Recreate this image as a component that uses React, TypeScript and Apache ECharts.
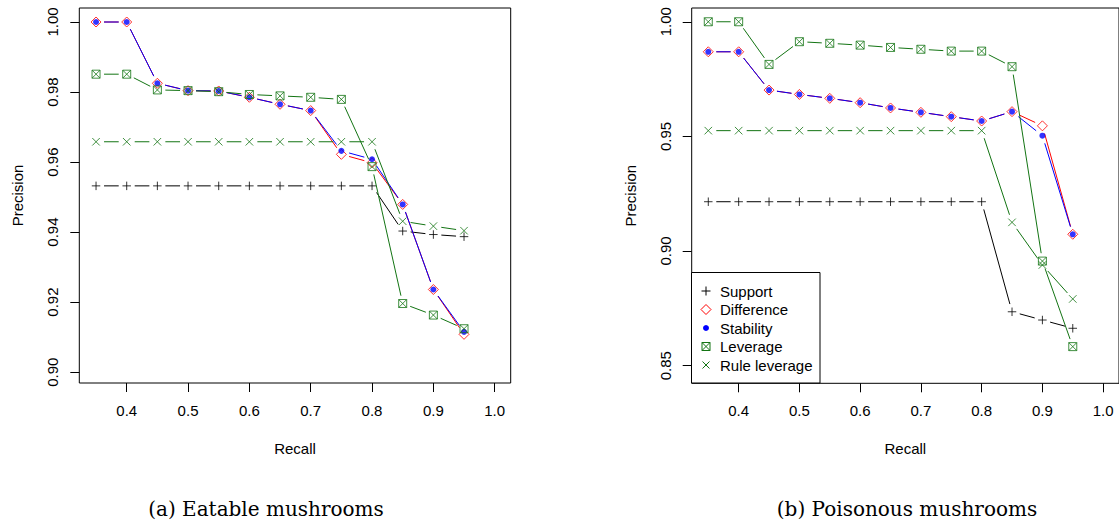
import React, { useEffect, useRef } from "react";
import * as echarts from "echarts";

// ---------- data ----------
const recall = [0.35, 0.4, 0.45, 0.5, 0.55, 0.6, 0.65, 0.7, 0.75, 0.8, 0.85, 0.9, 0.95];

// (a) Eatable mushrooms
const supportA = [0.9532, 0.9532, 0.9532, 0.9532, 0.9532, 0.9532, 0.9532, 0.9532, 0.9532, 0.9532, 0.9403, 0.9393, 0.9387];
const differenceA = [1.0, 1.0, 0.9825, 0.9804, 0.9803, 0.9785, 0.9765, 0.9747, 0.9622, 0.9598, 0.9479, 0.9236, 0.9108];
const stabilityA = [1.0, 1.0, 0.9825, 0.9804, 0.9803, 0.9785, 0.9765, 0.9747, 0.9632, 0.9608, 0.9479, 0.9236, 0.9115];
const leverageA = [0.9851, 0.9851, 0.9806, 0.9804, 0.9801, 0.9793, 0.9789, 0.9785, 0.9779, 0.9587, 0.9196, 0.9163, 0.9124];
const ruleLeverageA = [0.9658, 0.9658, 0.9658, 0.9658, 0.9658, 0.9658, 0.9658, 0.9658, 0.9658, 0.9658, 0.9431, 0.9417, 0.9404];

// (b) Poisonous mushrooms
const supportB = [0.9215, 0.9215, 0.9215, 0.9215, 0.9215, 0.9215, 0.9215, 0.9215, 0.9215, 0.9215, 0.8735, 0.8699, 0.8663];
const differenceB = [0.9869, 0.9869, 0.9702, 0.9683, 0.9666, 0.9647, 0.9624, 0.9605, 0.9586, 0.9567, 0.9608, 0.9546, 0.9073];
const stabilityB = [0.9869, 0.9869, 0.9702, 0.9683, 0.9666, 0.9647, 0.9624, 0.9605, 0.9586, 0.9567, 0.9608, 0.9503, 0.9073];
const leverageB = [1.0, 1.0, 0.9814, 0.9913, 0.9906, 0.9898, 0.9888, 0.988, 0.9872, 0.9872, 0.9804, 0.8956, 0.8583];
const ruleLeverageB = [0.9525, 0.9525, 0.9525, 0.9525, 0.9525, 0.9525, 0.9525, 0.9525, 0.9525, 0.9525, 0.9125, 0.8939, 0.8791];

const xTicks = [0.4, 0.5, 0.6, 0.7, 0.8, 0.9, 1.0];
const yTicksA = [0.9, 0.92, 0.94, 0.96, 0.98, 1.0];
const yTicksB = [0.85, 0.9, 0.95, 1.0];

const seriesNames = ["Support", "Difference", "Stability", "Leverage", "Rule leverage"];
const captions = ["(a) Eatable mushrooms", "(b) Poisonous mushrooms"];

// ---------- styles ----------
const SANS = "Liberation Sans, Arial, sans-serif";
const BLACK = "#000000";
const RED = "#ff0000";
const BLUE = "#0000ff";
const GREEN = "#137413";
const GAP = 8;

const symPlus = "path://M0,5L10,5M5,0L5,10";
const symDiamond = "path://M5,0L10,5L5,10L0,5Z";
const symSquareX = "path://M0,0L10,0L10,10L0,10ZM0,0L10,10M10,0L0,10";
const symCross = "path://M0,0L10,10M10,0L0,10";

type Spec = { name: string; color: string; symbol: string; size: number; filled?: boolean };
const specs: Spec[] = [
  { name: seriesNames[0], color: BLACK, symbol: symPlus, size: 8.5 },
  { name: seriesNames[1], color: RED, symbol: symDiamond, size: 10 },
  { name: seriesNames[2], color: BLUE, symbol: "circle", size: 6, filled: true },
  { name: seriesNames[3], color: GREEN, symbol: symSquareX, size: 8 },
  { name: seriesNames[4], color: GREEN, symbol: symCross, size: 7.5 },
];

function lineSeries(values: number[], color: string, g: number, z: number) {
  const segs: number[][] = [];
  for (let i = 0; i < recall.length - 1; i++) {
    segs.push([recall[i], values[i], recall[i + 1], values[i + 1]]);
  }
  return {
    type: "custom",
    xAxisIndex: g,
    yAxisIndex: g,
    silent: true,
    z,
    dimensions: ["x1", "y1", "x2", "y2"],
    encode: { x: [0, 2], y: [1, 3] },
    data: segs,
    renderItem: (_p: any, api: any) => {
      const p1 = api.coord([api.value(0), api.value(1)]);
      const p2 = api.coord([api.value(2), api.value(3)]);
      const dx = p2[0] - p1[0];
      const dy = p2[1] - p1[1];
      const L = Math.hypot(dx, dy);
      if (L <= 2 * GAP) return null;
      const ux = dx / L;
      const uy = dy / L;
      return {
        type: "line",
        shape: {
          x1: p1[0] + ux * GAP,
          y1: p1[1] + uy * GAP,
          x2: p2[0] - ux * GAP,
          y2: p2[1] - uy * GAP,
        },
        style: { stroke: color, lineWidth: 1 },
      };
    },
  };
}

function pointSeries(spec: Spec, values: number[], g: number, z: number) {
  return {
    type: "scatter",
    name: spec.name,
    xAxisIndex: g,
    yAxisIndex: g,
    silent: true,
    z,
    symbol: spec.symbol,
    symbolSize: spec.size,
    data: recall.map((x, i) => [x, values[i]]),
    itemStyle: spec.filled
      ? { color: spec.color }
      : { color: "none", borderColor: spec.color, borderWidth: 1 },
  };
}

function xAxis(g: number) {
  return {
    type: "value",
    gridIndex: g,
    min: 0.3227,
    max: 1.0261,
    axisLine: { show: false },
    axisTick: { show: true, customValues: xTicks, length: 9, lineStyle: { color: BLACK, width: 1 } },
    axisLabel: {
      customValues: xTicks,
      formatter: (v: number) => v.toFixed(1),
      fontSize: 15,
      fontFamily: SANS,
      color: BLACK,
      margin: 20,
    },
    splitLine: { show: false },
    name: "Recall",
    nameLocation: "middle",
    nameGap: 58,
    nameTextStyle: { fontSize: 15, fontFamily: SANS, color: BLACK },
  };
}

function yAxis(g: number, min: number, max: number, ticks: number[]) {
  return {
    type: "value",
    gridIndex: g,
    min,
    max,
    axisLine: { show: false },
    axisTick: { show: true, customValues: ticks, length: 9, lineStyle: { color: BLACK, width: 1 } },
    axisLabel: {
      customValues: ticks,
      formatter: (v: number) => v.toFixed(2),
      fontSize: 15,
      fontFamily: SANS,
      color: BLACK,
      rotate: 90,
      margin: 19,
    },
    splitLine: { show: false },
    name: "Precision",
    nameLocation: "middle",
    nameRotate: 90,
    nameGap: 54,
    nameTextStyle: { fontSize: 15, fontFamily: SANS, color: BLACK },
  };
}

function legendGraphics() {
  const cx = 706;
  const rows = [291, 309.5, 328, 346.5, 365];
  const els: any[] = [
    {
      type: "rect",
      shape: { x: 691.5, y: 272.5, width: 128.5, height: 110.5 },
      style: { fill: "#ffffff", stroke: BLACK, lineWidth: 1 },
      z: 20,
    },
  ];
  const st = (c: string) => ({ stroke: c, lineWidth: 1, fill: "none" });
  // Support +
  let y = rows[0];
  els.push({ type: "line", shape: { x1: cx - 4.5, y1: y, x2: cx + 4.5, y2: y }, style: st(BLACK), z: 21 });
  els.push({ type: "line", shape: { x1: cx, y1: y - 4.5, x2: cx, y2: y + 4.5 }, style: st(BLACK), z: 21 });
  // Difference diamond
  y = rows[1];
  els.push({
    type: "polygon",
    shape: { points: [[cx, y - 5], [cx + 5, y], [cx, y + 5], [cx - 5, y]] },
    style: st(RED),
    z: 21,
  });
  // Stability dot
  y = rows[2];
  els.push({ type: "circle", shape: { cx, cy: y, r: 3 }, style: { fill: BLUE }, z: 21 });
  // Leverage square x
  y = rows[3];
  els.push({ type: "rect", shape: { x: cx - 4, y: y - 4, width: 8, height: 8 }, style: st(GREEN), z: 21 });
  els.push({ type: "line", shape: { x1: cx - 4, y1: y - 4, x2: cx + 4, y2: y + 4 }, style: st(GREEN), z: 21 });
  els.push({ type: "line", shape: { x1: cx + 4, y1: y - 4, x2: cx - 4, y2: y + 4 }, style: st(GREEN), z: 21 });
  // Rule leverage x
  y = rows[4];
  els.push({ type: "line", shape: { x1: cx - 3.5, y1: y - 3.5, x2: cx + 3.5, y2: y + 3.5 }, style: st(GREEN), z: 21 });
  els.push({ type: "line", shape: { x1: cx + 3.5, y1: y - 3.5, x2: cx - 3.5, y2: y + 3.5 }, style: st(GREEN), z: 21 });
  rows.forEach((ry, i) => {
    els.push({
      type: "text",
      x: 720,
      y: ry,
      style: { text: seriesNames[i], fontSize: 15, fontFamily: SANS, fill: BLACK, verticalAlign: "middle", align: "left" },
      z: 21,
    });
  });
  return els;
}

export default function App() {
  const ref = useRef<HTMLDivElement>(null);
  useEffect(() => {
    const chart = echarts.init(ref.current!, null, { renderer: "svg" });
    const dataA = [supportA, differenceA, stabilityA, leverageA, ruleLeverageA];
    const dataB = [supportB, differenceB, stabilityB, leverageB, ruleLeverageB];
    const series: any[] = [];
    [dataA, dataB].forEach((set, g) => {
      set.forEach((vals, k) => {
        series.push(lineSeries(vals, specs[k].color, g, 2 + k));
        series.push(pointSeries(specs[k], vals, g, 2 + k));
      });
    });
    const option: any = {
      animation: false,
      backgroundColor: "#ffffff",
      grid: [
        { left: 79.3, top: 8, width: 431.4, height: 375, show: true, borderColor: BLACK, borderWidth: 1, backgroundColor: "transparent" },
        { left: 691.7, top: 8, width: 431, height: 375.3, show: true, borderColor: BLACK, borderWidth: 1, backgroundColor: "transparent" },
      ],
      xAxis: [xAxis(0), xAxis(1)],
      yAxis: [yAxis(0, 0.8969, 1.004, yTicksA), yAxis(1, 0.8423, 1.006, yTicksB)],
      series,
      graphic: [
        ...legendGraphics(),
        {
          type: "text",
          x: 266,
          y: 509,
          style: { text: captions[0], fontSize: 20, fontFamily: "DejaVu Serif", fill: BLACK, align: "center", verticalAlign: "middle" },
        },
        {
          type: "text",
          x: 907,
          y: 509,
          style: { text: captions[1], fontSize: 20, fontFamily: "DejaVu Serif", fill: BLACK, align: "center", verticalAlign: "middle" },
        },
      ],
    };
    chart.setOption(option);
    return () => chart.dispose();
  }, []);
  return (
    <div
      ref={ref}
      style={{ position: "absolute", left: 0, top: 0, width: 1119, height: 527 }}
    />
  );
}
